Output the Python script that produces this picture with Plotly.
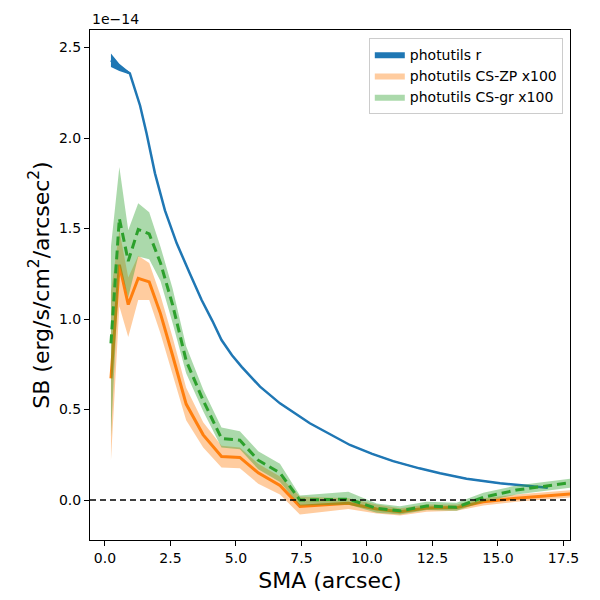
import plotly.graph_objects as go

# ---- data (SB in units of 1e-14 erg/s/cm^2/arcsec^2) ----
sma_r = [0.23, 0.55, 0.95, 1.34, 1.59, 1.91, 2.29, 2.74, 3.24, 3.69, 4.1, 4.45, 4.85, 5.22, 5.92, 6.68, 7.82, 9.35, 10.2, 11.0, 12.0, 12.79, 13.8, 15.08, 16.0, 16.9]
sb_r = [2.43, 2.39, 2.357, 2.18, 2.025, 1.805, 1.60, 1.418, 1.252, 1.105, 0.99, 0.884, 0.80, 0.736, 0.626, 0.534, 0.424, 0.304, 0.255, 0.215, 0.175, 0.148, 0.118, 0.092, 0.08, 0.068]
err_r = [0.037, 0.02, 0.006, 0.004, 0.004, 0.004, 0.003, 0.003, 0.003, 0.003, 0.003, 0.003, 0.003, 0.003, 0.003, 0.003, 0.003, 0.003, 0.003, 0.003, 0.003, 0.003, 0.003, 0.003, 0.003, 0.003]

sma_cs = [0.23, 0.55, 0.89, 1.27, 1.69, 2.12, 2.58, 3.1, 3.75, 4.45, 5.15, 5.85, 6.68, 7.44, 9.29, 10.37, 11.26, 12.28, 13.42, 14.44, 15.7, 17.9]

sb_zp = [0.672, 1.30, 1.08, 1.225, 1.205, 1.03, 0.80, 0.53, 0.36, 0.24, 0.235, 0.15, 0.08, -0.035, -0.018, -0.05, -0.065, -0.044, -0.042, -0.01, 0.01, 0.035]
zp_lo = [0.22, 1.07, 0.90, 1.105, 1.105, 0.92, 0.70, 0.44, 0.29, 0.18, 0.175, 0.09, 0.03, -0.08, -0.05, -0.075, -0.085, -0.065, -0.06, -0.03, -0.01, 0.015]
zp_hi = [1.15, 1.49, 1.23, 1.35, 1.31, 1.13, 0.90, 0.62, 0.43, 0.30, 0.29, 0.20, 0.13, 0.02, 0.01, -0.025, -0.045, -0.025, -0.025, 0.01, 0.03, 0.055]

sb_gr = [0.866, 1.556, 1.32, 1.495, 1.47, 1.31, 1.08, 0.77, 0.55, 0.34, 0.33, 0.22, 0.15, 0.0, 0.005, -0.046, -0.06, -0.033, -0.04, 0.015, 0.055, 0.098]
gr_lo = [0.35, 1.30, 1.12, 1.345, 1.33, 1.21, 0.98, 0.70, 0.49, 0.29, 0.28, 0.17, 0.10, -0.03, -0.025, -0.07, -0.08, -0.055, -0.06, -0.01, 0.03, 0.07]
gr_hi = [1.40, 1.84, 1.49, 1.64, 1.59, 1.40, 1.17, 0.85, 0.61, 0.40, 0.38, 0.27, 0.20, 0.025, 0.045, -0.02, -0.035, -0.01, -0.015, 0.04, 0.08, 0.12]

labels = ["photutils r", "photutils CS-ZP x100", "photutils CS-gr x100"]

BLUE = "#1f77b4"
ORANGE = "#ff7f0e"
GREEN = "#2ca02c"
FONT = "DejaVu Sans"

fig = go.Figure()


def band(x, lo, hi, color, name):
    xs = list(x) + list(x)[::-1]
    ys = list(hi) + list(lo)[::-1]
    fig.add_trace(go.Scatter(x=xs, y=ys, fill="toself", fillcolor=color,
                             line=dict(width=0, color=color), mode="lines",
                             name=name, hoverinfo="skip"))


r_lo = [v - e for v, e in zip(sb_r, err_r)]
r_hi = [v + e for v, e in zip(sb_r, err_r)]
band(sma_r, r_lo, r_hi, BLUE, labels[0])
fig.add_trace(go.Scatter(x=sma_r, y=sb_r, mode="lines", line=dict(color=BLUE, width=2.5),
                         showlegend=False))

band(sma_cs, zp_lo, zp_hi, "rgba(255,127,14,0.4)", labels[1])
fig.add_trace(go.Scatter(x=sma_cs, y=sb_zp, mode="lines", line=dict(color=ORANGE, width=3),
                         showlegend=False))

band(sma_cs, gr_lo, gr_hi, "rgba(44,160,44,0.4)", labels[2])
fig.add_trace(go.Scatter(x=sma_cs, y=sb_gr, mode="lines",
                         line=dict(color=GREEN, width=3, dash="9px,5px"),
                         showlegend=False))

fig.add_shape(type="line", xref="paper", x0=0, x1=1, yref="y", y0=0, y1=0,
              line=dict(color="black", width=1.5, dash="6px,4px"), layer="above")

fig.add_annotation(text="1e\u221214", xref="paper", yref="paper", x=0, y=1,
                   xanchor="left", yanchor="bottom", showarrow=False,
                   font=dict(family=FONT, size=14, color="black"), yshift=1)

axis_common = dict(showgrid=False, zeroline=False, showline=True, linecolor="black",
                   linewidth=1, mirror=True, ticks="outside", ticklen=5, tickwidth=1,
                   tickcolor="black", automargin=False,
                   tickfont=dict(family=FONT, size=14, color="black"))

fig.update_xaxes(range=[-0.57, 17.75], tickvals=[0, 2.5, 5, 7.5, 10, 12.5, 15, 17.5],
                 ticktext=["0.0", "2.5", "5.0", "7.5", "10.0", "12.5", "15.0", "17.5"],
                 title=dict(text="SMA (arcsec)", font=dict(family=FONT, size=22, color="black"),
                            standoff=7),
                 **axis_common)
fig.update_yaxes(range=[-0.221, 2.597], tickvals=[0, 0.5, 1.0, 1.5, 2.0, 2.5],
                 ticktext=["0.0", "0.5", "1.0", "1.5", "2.0", "2.5"],
                 title=dict(text="SB (erg/s/cm<sup>2</sup>/arcsec<sup>2</sup>)",
                            font=dict(family=FONT, size=22, color="black"), standoff=3),
                 **axis_common)

# the page body adds an 8px offset, so margins are shifted to keep the plot area in place
fig.update_layout(
    width=600, height=600,
    margin=dict(l=82, r=38, t=22, b=68),
    paper_bgcolor="white", plot_bgcolor="white",
    font=dict(family=FONT, size=14, color="black"),
    legend=dict(x=0.985, y=0.985, xanchor="right", yanchor="top",
                bgcolor="rgba(255,255,255,0.8)", bordercolor="#cccccc", borderwidth=1,
                font=dict(family=FONT, size=14, color="black"),
                tracegroupgap=0, itemwidth=30),
    showlegend=True,
)

fig.write_html("out.html")
